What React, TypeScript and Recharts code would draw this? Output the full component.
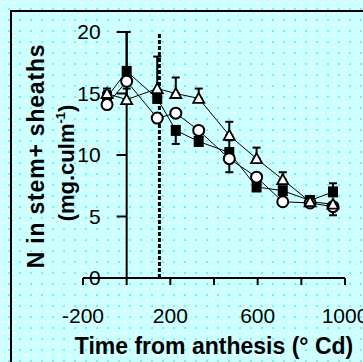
import React from 'react';
import {
  ComposedChart,
  Line,
  XAxis,
  YAxis,
  ReferenceLine,
  ErrorBar,
} from 'recharts';

// thermal time after anthesis (°Cd)
const timeCd = [-90, 0, 140, 225, 330, 470, 595, 715, 840, 945];

// N in stem + sheaths (mg/culm)
const squareN = [14.7, 16.8, 14.6, 12.0, 11.1, 10.2, 7.4, 7.1, 6.3, 7.0];
const circleN = [14.1, 16.0, 13.0, 13.4, 12.0, 9.7, 8.2, 6.2, 6.1, 5.8];
const triangleN = [15.0, 14.5, 15.4, 15.0, 14.6, 11.6, 9.7, 8.0, 6.2, 6.0];

// error bars as [down, up]
const squareErr = [[0, 0.5], [0, 3.2], [0, 3.4], [1.1, 0], null, [0, 1.0], null, null, null, [0, 0.7]];
const circleErr = [null, null, null, null, null, [1.1, 0], null, null, null, [0.7, 0]];
const triangleErr = [[0, 0.4], [0, 0.9], null, [0, 1.3], [0, 0.8], [0, 1.1], [0, 0.9], [0, 0.6], null, null];

const xTicks = [-200, 0, 200, 400, 600, 800, 1000];
const xTickLabels = [-200, 200, 600, 1000];
const yTicks = [0, 5, 10, 15, 20];
const anthesisLine = 150;

const FONT = '"Liberation Sans", Arial, Helvetica, sans-serif';

const rows = timeCd.map((x, i) => ({
  x,
  sq: squareN[i],
  sqErr: squareErr[i],
  ci: circleN[i],
  ciErr: circleErr[i],
  tr: triangleN[i],
  trErr: triangleErr[i],
}));

const SquareDot = (p: any) =>
  p.cx == null ? null : (
    <rect key={p.key} x={p.cx - 5} y={p.cy - 5.5} width={10} height={11} fill="#000" />
  );

const CircleDot = (p: any) =>
  p.cx == null ? null : (
    <circle key={p.key} cx={p.cx} cy={p.cy} r={5.5} fill="#fff" stroke="#000" strokeWidth={2} />
  );

const TriangleDot = (p: any) =>
  p.cx == null ? null : (
    <polygon
      key={p.key}
      points={`${p.cx},${p.cy - 5.5} ${p.cx + 5.5},${p.cy + 4.5} ${p.cx - 5.5},${p.cy + 4.5}`}
      fill="#fff"
      stroke="#000"
      strokeWidth={1.8}
    />
  );

export default function App() {
  return (
    <div style={{ position: 'absolute', left: 0, top: 0, width: 363, height: 362, overflow: 'hidden' }}>
      <svg width={363} height={362} style={{ position: 'absolute', left: 0, top: 0 }}>
        <defs>
          <pattern id="dots" width={11} height={11} patternUnits="userSpaceOnUse">
            <rect width={11} height={11} fill="#ccffff" />
            <rect x={3} y={2} width={2} height={2} fill="#ffffff" />
            <rect x={8} y={8} width={2} height={2} fill="#88e8f0" />
          </pattern>
        </defs>
        <rect width={363} height={362} fill="url(#dots)" />
        <rect x={11} y={11} width={380} height={380} fill="none" stroke="#000" strokeWidth={2} />
      </svg>

      <div style={{ position: 'absolute', left: 0, top: 0 }}>
        <ComposedChart
          width={363}
          height={362}
          data={rows}
          margin={{ top: 32, right: 18, bottom: 54, left: 83 }}
        >
          <XAxis
            dataKey="x"
            type="number"
            domain={[-200, 1000]}
            ticks={xTicks}
            interval={0}
            height={30}
            tickFormatter={(v: number) => (xTickLabels.includes(v) ? String(v) : '')}
            axisLine={{ stroke: '#000', strokeWidth: 2 }}
            tickLine={{ stroke: '#000', strokeWidth: 2 }}
            tickSize={7}
            tickMargin={23}
            tick={{ fill: '#000', fontSize: 21, fontFamily: FONT }}
            label={{
              value: 'Time from anthesis (° Cd)',
              position: 'bottom',
              offset: 30,
              fill: '#000',
              fontSize: 23,
              fontWeight: 'bold',
              fontFamily: FONT,
            }}
          />
          <YAxis type="number" domain={[0, 20]} hide />

          <ReferenceLine x={0} stroke="#000" strokeWidth={2} />
          {yTicks.map((t) => (
            <ReferenceLine
              key={t}
              segment={[
                { x: -46, y: t },
                { x: 0, y: t },
              ]}
              stroke="#000"
              strokeWidth={2}
              label={{ value: String(t), position: 'left', offset: 16, fill: '#000', fontSize: 21, fontFamily: FONT }}
            />
          ))}
          <ReferenceLine x={anthesisLine} stroke="#000" strokeWidth={3} strokeDasharray="4 2" />

          <Line
            dataKey="sq"
            type="linear"
            stroke="#000"
            strokeWidth={1}
            dot={SquareDot}
            activeDot={false}
            isAnimationActive={false}
          >
            <ErrorBar dataKey="sqErr" width={4} stroke="#000" strokeWidth={2} direction="y" />
          </Line>
          <Line
            dataKey="ci"
            type="linear"
            stroke="#000"
            strokeWidth={1}
            dot={CircleDot}
            activeDot={false}
            isAnimationActive={false}
          >
            <ErrorBar dataKey="ciErr" width={4} stroke="#000" strokeWidth={2} direction="y" />
          </Line>
          <Line
            dataKey="tr"
            type="linear"
            stroke="#000"
            strokeWidth={1}
            dot={TriangleDot}
            activeDot={false}
            isAnimationActive={false}
          >
            <ErrorBar dataKey="trErr" width={4} stroke="#000" strokeWidth={2} direction="y" />
          </Line>
        </ComposedChart>
      </div>

      <svg width={363} height={362} style={{ position: 'absolute', left: 0, top: 0, pointerEvents: 'none' }}>
        <text
          x={44}
          y={156}
          transform="rotate(-90 44 156)"
          textAnchor="middle"
          fontFamily={FONT}
          fontSize={23}
          fontWeight="bold"
          letterSpacing={0.8}
          fill="#000"
        >
          N in stem+ sheaths
        </text>
        <text
          x={74}
          y={163}
          transform="rotate(-90 74 163)"
          textAnchor="middle"
          fontFamily={FONT}
          fontSize={22}
          fontWeight="bold"
          fill="#000"
        >
          (mg.culm
          <tspan fontSize={13} dy={-9}>
            -1
          </tspan>
          <tspan dy={9}>)</tspan>
        </text>
      </svg>
    </div>
  );
}
